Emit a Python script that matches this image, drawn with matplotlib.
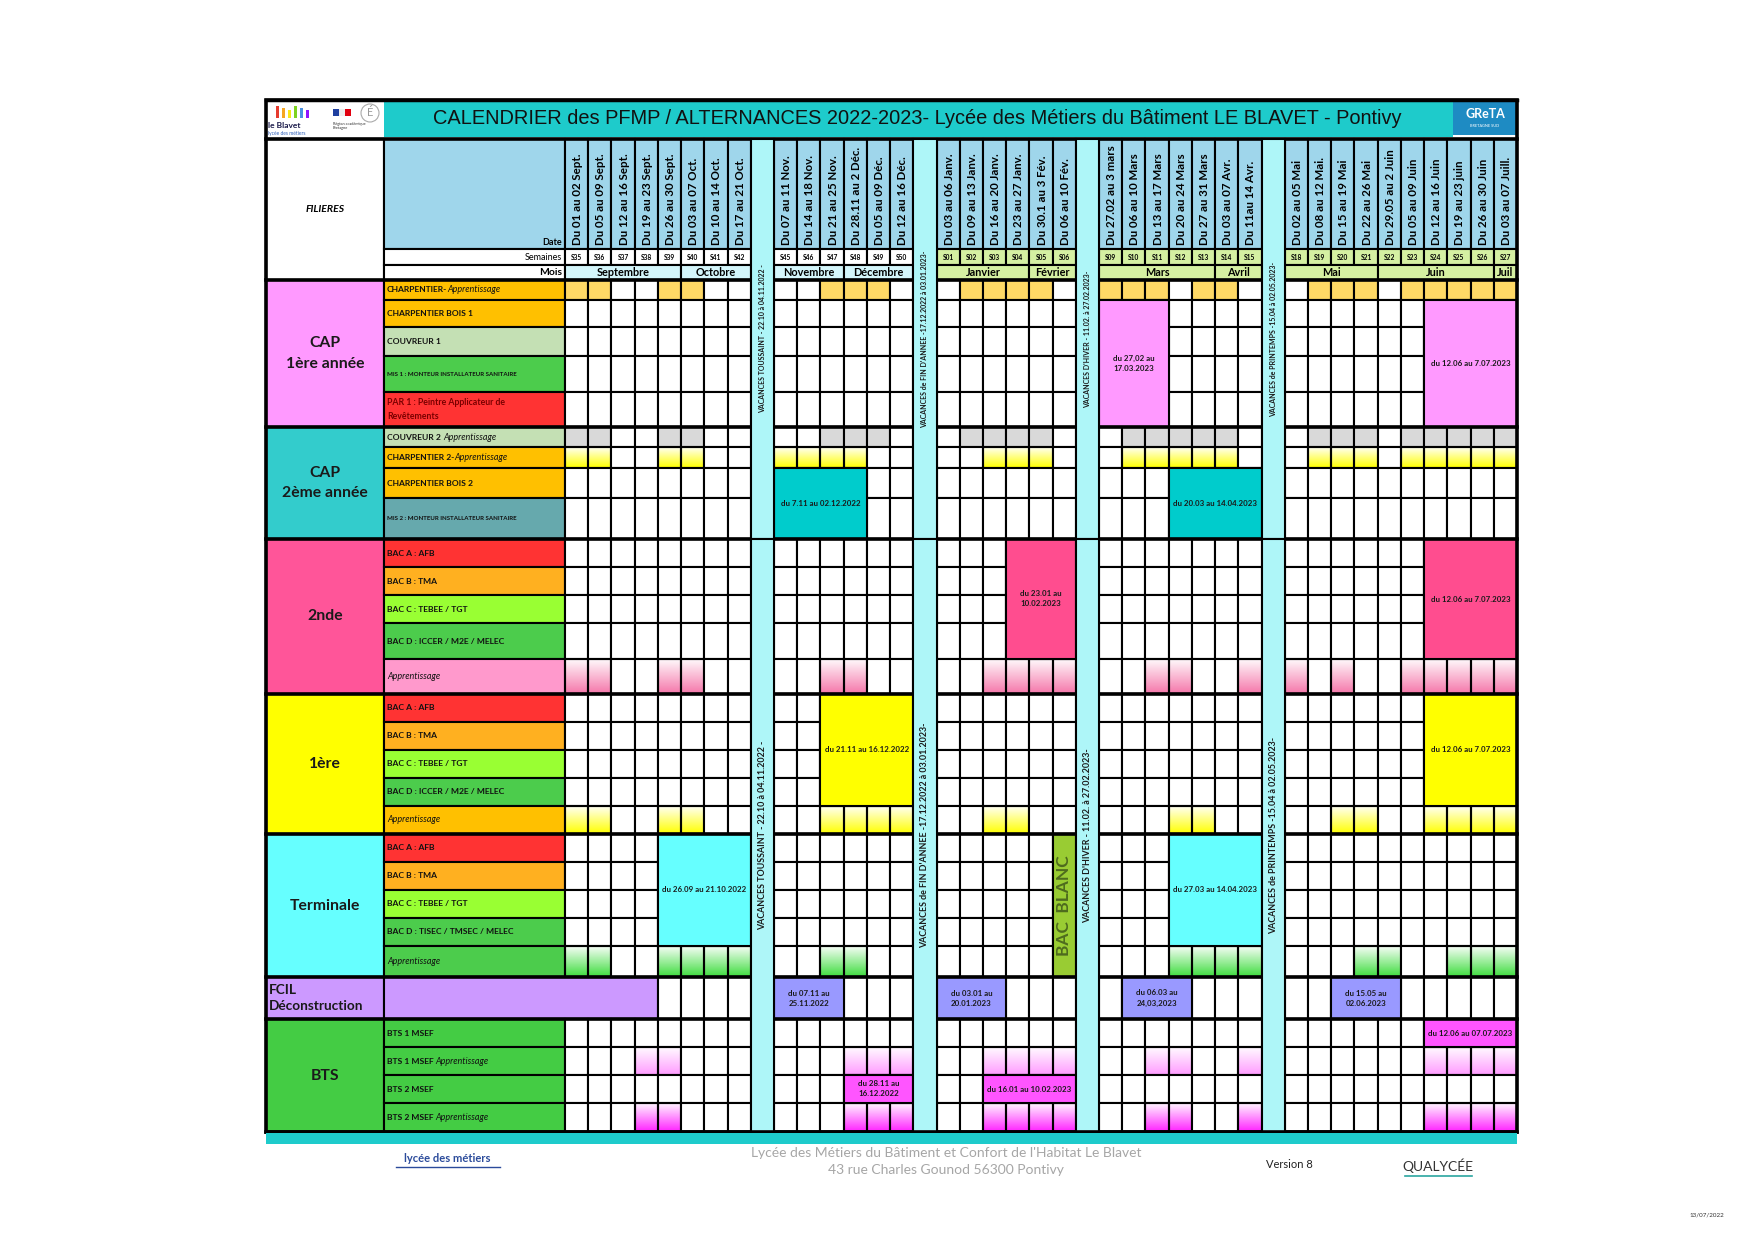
import numpy as np
import matplotlib
matplotlib.use('Agg')
import matplotlib.pyplot as plt
from matplotlib.patches import Rectangle, Circle
from matplotlib.colors import LinearSegmentedColormap

plt.rcParams['font.family'] = ['Lato', 'DejaVu Sans']

# ---------------- data ----------------
titre = ("CALENDRIER des PFMP / ALTERNANCES 2022-2023- Lycée des Métiers "
         "du Bâtiment LE BLAVET - Pontivy")

semaines = ['S35', 'S36', 'S37', 'S38', 'S39', 'S40', 'S41', 'S42',
            'S45', 'S46', 'S47', 'S48', 'S49', 'S50',
            'S01', 'S02', 'S03', 'S04', 'S05', 'S06',
            'S09', 'S10', 'S11', 'S12', 'S13', 'S14', 'S15',
            'S18', 'S19', 'S20', 'S21', 'S22', 'S23', 'S24', 'S25', 'S26', 'S27']

dates = ['Du 01 au 02 Sept.', 'Du 05 au 09 Sept.', 'Du 12 au 16 Sept.', 'Du 19 au 23 Sept.',
         'Du 26 au 30 Sept.', 'Du 03 au 07 Oct.', 'Du 10 au 14 Oct.', 'Du 17 au 21 Oct.',
         'Du 07 au 11 Nov.', 'Du 14 au 18 Nov.', 'Du 21 au 25 Nov.', 'Du 28.11 au 2 Déc.',
         'Du 05 au 09 Déc.', 'Du 12 au 16 Déc.',
         'Du 03 au 06 Janv.', 'Du 09 au 13 Janv.', 'Du 16 au 20 Janv.', 'Du 23 au 27 Janv.',
         'Du 30.1 au 3 Fév.', 'Du 06 au 10 Fév.',
         'Du 27.02 au 3 mars', 'Du 06 au 10 Mars', 'Du 13 au 17 Mars', 'Du 20 au 24 Mars',
         'Du 27 au 31 Mars', 'Du 03 au 07 Avr.', 'Du 11au 14 Avr.',
         'Du 02 au 05 Mai', 'Du 08 au 12 Mai.', 'Du 15 au 19 Mai', 'Du 22 au 26 Mai',
         'Du 29.05 au 2 Juin', 'Du 05 au 09 Juin', 'Du 12 au 16 Juin', 'Du 19 au 23 juin',
         'Du 26 au 30 Juin', 'Du 03 au 07 Juill.']

periodes = [8, 6, 6, 7, 10]      # weeks between two holiday columns

vacances = ['VACANCES TOUSSAINT - 22.10 à 04.11.2022 -',
            "VACANCES de FIN D'ANNEE -17.12.2022 à 03.01.2023-",
            "VACANCES D'HIVER - 11.02. à 27.02.2023-",
            'VACANCES de PRINTEMPS -15.04 à 02.05.2023-']

mois = ['Septembre', 'Octobre', 'Novembre', 'Décembre', 'Janvier', 'Février',
        'Mars', 'Avril', 'Mai', 'Juin', 'Juil']
mois_nb = [5, 3, 3, 3, 4, 2, 5, 2, 4, 5, 1]

groupes = ['CAP\n1ère année', 'CAP\n2ème année', '2nde', '1ère', 'Terminale',
           'FCIL\nDéconstruction', 'BTS']
groupes_nb = [5, 4, 5, 5, 5, 1, 4]

# (bold part, italic part)
filieres = [('CHARPENTIER-', 'Apprentissage'), ('CHARPENTIER BOIS 1', ''),
            ('COUVREUR 1', ''), ('MIS 1 : MONTEUR INSTALLATEUR SANITAIRE', ''),
            ('PAR 1 : Peintre Applicateur de\nRevêtements', ''),
            ('COUVREUR 2 ', 'Apprentissage'), ('CHARPENTIER 2-', 'Apprentissage'),
            ('CHARPENTIER BOIS 2', ''), ('MIS 2 : MONTEUR INSTALLATEUR SANITAIRE', ''),
            ('BAC A : AFB', ''), ('BAC B : TMA', ''), ('BAC C : TEBEE / TGT', ''),
            ('BAC D : ICCER / M2E / MELEC', ''), ('', 'Apprentissage'),
            ('BAC A : AFB', ''), ('BAC B : TMA', ''), ('BAC C : TEBEE / TGT', ''),
            ('BAC D : ICCER / M2E / MELEC', ''), ('', 'Apprentissage'),
            ('BAC A : AFB', ''), ('BAC B : TMA', ''), ('BAC C : TEBEE / TGT', ''),
            ('BAC D : TISEC / TMSEC / MELEC', ''), ('', 'Apprentissage'),
            ('', ''),
            ('BTS 1 MSEF', ''), ('BTS 1 MSEF ', 'Apprentissage'),
            ('BTS 2 MSEF', ''), ('BTS 2 MSEF ', 'Apprentissage')]

# apprenticeship weeks per row: 1 = in company
motifs = {
    0: ('11001100 001110 011110 1110110 0111011111', 'orange'),
    5: ('11001100 001110 011110 0111110 0111011111', 'gris'),
    6: ('11001100 111100 001110 0111110 0111011111', 'jaune'),
    13: ('11001100 001100 001111 0011001 1010011111', 'rose'),
    18: ('11001100 001111 001100 0001100 0011001111', 'jaune'),
    23: ('11001111 001100 000000 0001111 0001100111', 'vert'),
    26: ('00011000 000111 001111 0011001 0000001111', 'mauve'),
    28: ('00011000 000111 001111 0011001 0000001111', 'magenta'),
}

# PFMP blocks: first row, last row, first week, last week, text, colour key
pfmp = [(1, 4, 20, 22, 'du 27,02 au\n17.03.2023', 'cap1'),
        (1, 4, 33, 36, 'du 12.06 au 7.07.2023', 'cap1'),
        (7, 8, 8, 11, 'du 7.11 au 02.12.2022', 'cap2'),
        (7, 8, 23, 26, 'du 20.03 au 14.04.2023', 'cap2'),
        (9, 12, 17, 19, 'du 23.01 au\n10.02.2023', 'seconde'),
        (9, 12, 33, 36, 'du 12.06 au 7.07.2023', 'seconde'),
        (14, 17, 10, 13, 'du 21.11 au 16.12.2022', 'premiere'),
        (14, 17, 33, 36, 'du 12.06 au 7.07.2023', 'premiere'),
        (19, 22, 4, 7, 'du 26.09 au 21.10.2022', 'term'),
        (19, 22, 23, 26, 'du 27.03 au 14.04.2023', 'term'),
        (24, 24, 8, 10, 'du 07.11 au\n25.11.2022', 'fcil'),
        (24, 24, 14, 16, 'du 03.01 au\n20.01.2023', 'fcil'),
        (24, 24, 21, 23, 'du 06.03 au\n24,03,2023', 'fcil'),
        (24, 24, 29, 31, 'du 15.05 au\n02.06.2023', 'fcil'),
        (25, 25, 33, 36, 'du 12.06 au 07.07.2023', 'bts'),
        (27, 27, 11, 13, 'du 28.11 au\n16.12.2022', 'bts'),
        (27, 27, 16, 19, 'du 16.01 au 10.02.2023', 'bts')]

bac_blanc = (19, 23, 19, 'BAC  BLANC')
fcil_bandeau = 4        # FCIL label band covers the first weeks

# ---------------- layout / styles ----------------
W, H = 1753, 1240
X_GRP, X_LAB, X_WK, CW = 266, 384, 565, 23.22
Y_TOP, Y_HEAD, Y_SEM, Y_MOIS, Y_BODY = 100, 139, 249, 265, 280
Y_ROWS = [280, 300, 327, 356, 392, 427, 447, 468, 498, 539, 567, 595, 623, 659, 694,
          722, 750, 778, 806, 834, 862, 890, 918, 946, 977, 1019, 1047, 1075, 1103, 1132]
LW = 1.5

CYAN = '#1ECBCB'
BLEU_DATE = '#9FD6EB'
VAC = '#AEF6F8'
MOIS_C = ['#D4F6FB'] * 4 + ['#D5F0A2'] * 7
SEM_C = ['white'] * 14 + ['#D5F0A2'] * 23

grp_col = ['#FF99FF', '#33CCCC', '#FF5599', '#FFFF00', '#66FFFF', '#CC99FF', '#44CC44']
lab_col = ['#FFC000', '#FFC000', '#C4E0B4', '#4CCC4C', '#FF3333',
           '#C4E0B4', '#FFC000', '#FFC000', '#66A9AD',
           '#FF3333', '#FFB020', '#99FF33', '#4CCC4C', '#FF99CC',
           '#FF3333', '#FFB020', '#99FF33', '#4CCC4C', '#FFC000',
           '#FF3333', '#FFB020', '#99FF33', '#4CCC4C', '#4CCC4C',
           '#CC99FF', '#44CC44', '#44CC44', '#44CC44', '#44CC44']
lab_fs = {3: 4.4, 8: 4.4, 4: 6.3}
lab_txt = {4: '#7A0000'}
bloc_col = {'cap1': '#FF99FF', 'cap2': '#00CCCC', 'seconde': '#FF4D8F',
            'premiere': '#FFFF00', 'term': '#66FFFF', 'fcil': '#9999FF', 'bts': '#FF55FF'}
remplissage = {'orange': (False, '#FFD966'), 'gris': (False, '#D9D9D9'),
               'jaune': (True, '#FFFF00'), 'rose': (True, '#F577AA'),
               'vert': (True, '#3FDD3F'), 'mauve': (True, '#FF9CFF'),
               'magenta': (True, '#FF22FF')}

# column positions
cols = []
k = 0
for p, n in enumerate(periodes):
    for _ in range(n):
        cols.append(('w', k))
        k += 1
    if p < len(vacances):
        cols.append(('v', p))
col_x = X_WK + CW * np.arange(len(cols))
wx = [col_x[i] for i, c in enumerate(cols) if c[0] == 'w']
vx = [col_x[i] for i, c in enumerate(cols) if c[0] == 'v']
X_END = col_x[-1] + CW
R_FCIL = sum(groupes_nb[:5])

fig = plt.figure(figsize=(W / 100, H / 100), dpi=100)
ax = fig.add_axes([0, 0, 1, 1])


def box(x0, y0, w, h, fc='white', lw=LW, z=2, ec='black'):
    ax.add_patch(Rectangle((x0, y0), w, h, facecolor=fc, edgecolor=ec, lw=lw, zorder=z))


def grad(x0, y0, w, h, color):
    cm = LinearSegmentedColormap.from_list('g', ['#FFFFFF', color])
    ax.imshow(np.linspace(0.05, 1, 40).reshape(-1, 1), cmap=cm, vmin=0, vmax=1,
              extent=(x0, x0 + w, y0 + h, y0), aspect='auto', interpolation='bilinear',
              zorder=1)
    box(x0, y0, w, h, fc='none')


# ---- title bar ----
ax.add_patch(Rectangle((X_LAB, Y_TOP), 1453 - X_LAB, Y_HEAD - Y_TOP - 2, facecolor=CYAN, lw=0))
ax.plot([X_GRP, X_END], [Y_TOP, Y_TOP], color='black', lw=2.5)
ax.text(917, 119, titre, family=['Liberation Sans', 'DejaVu Sans'],
        fontsize=14.4, ha='center', va='center', color='#111111')
# logos (approximations)
for i, c in enumerate(['#E63B2E', '#F5A623', '#F8E71C', '#7ED321', '#4A90E2', '#9013FE']):
    ax.add_patch(Rectangle((276 + i * 6, 106 + (i % 3) * 2), 3.5, 12 - (i % 3) * 2, color=c, lw=0))
ax.text(268, 125, 'le Blavet', fontsize=6, fontweight='bold', color='#1A1A4A', va='center')
ax.text(268, 133, 'lycée des métiers', fontsize=3.5, color='#2A5CB8', va='center')
ax.add_patch(Rectangle((333, 109), 6, 7, color='#1F3FA0', lw=0))
ax.add_patch(Rectangle((339, 109), 6, 7, color='#EEEEEE', lw=0))
ax.add_patch(Rectangle((345, 109), 6, 7, color='#E1000F', lw=0))
ax.text(333, 126, 'Région académique\nBretagne', fontsize=2.8, color='#333333', va='center')
ax.add_patch(Circle((370, 113), 9, facecolor='white', edgecolor='#AAAAAA', lw=0.8))
ax.text(370, 113, 'É', fontsize=8, color='#999999', ha='center', va='center')
ax.add_patch(Rectangle((1453, 101), X_END - 1453, 34, facecolor='#1E8BC3', lw=0))
ax.text(1485, 114, 'GReTA', fontsize=9, fontweight='bold', color='white', ha='center', va='center')
ax.text(1485, 126, 'BRETAGNE SUD', fontsize=2.8, color='white', ha='center', va='center')

# ---- header ----
box(X_GRP, Y_HEAD, X_LAB - X_GRP, Y_BODY - Y_HEAD)
ax.text((X_GRP + X_LAB) / 2, 209, 'FILIERES', fontsize=7.5, fontweight='bold',
        style='italic', ha='center', va='center', zorder=4)
box(X_LAB, Y_HEAD, X_WK - X_LAB, Y_SEM - Y_HEAD, fc=BLEU_DATE)
ax.text(X_WK - 3, Y_SEM - 2, 'Date', fontsize=6.5, fontweight='bold', ha='right', va='bottom', zorder=4)
box(X_LAB, Y_SEM, X_WK - X_LAB, Y_MOIS - Y_SEM)
ax.text(X_WK - 3, (Y_SEM + Y_MOIS) / 2, 'Semaines', fontsize=6.5, ha='right', va='center', zorder=4)
box(X_LAB, Y_MOIS, X_WK - X_LAB, Y_BODY - Y_MOIS)
ax.text(X_WK - 3, (Y_MOIS + Y_BODY) / 2, 'Mois', fontsize=7.5, fontweight='bold', ha='right', va='center', zorder=4)

for i, (lab, d) in enumerate(zip(semaines, dates)):
    box(wx[i], Y_HEAD, CW, Y_SEM - Y_HEAD, fc=BLEU_DATE)
    ax.text(wx[i] + CW / 2 + 1, Y_SEM - 4, d, rotation=90, fontsize=8.3, fontweight='bold',
            ha='center', va='bottom', zorder=4)
    box(wx[i], Y_SEM, CW, Y_MOIS - Y_SEM, fc=SEM_C[i])
    ax.text(wx[i] + CW / 2, (Y_SEM + Y_MOIS) / 2, lab, fontsize=4.8, fontweight='bold',
            ha='center', va='center', zorder=4)

start = 0
for m, n, c in zip(mois, mois_nb, MOIS_C):
    box(wx[start], Y_MOIS, CW * n, Y_BODY - Y_MOIS, fc=c)
    ax.text(wx[start] + CW * n / 2, (Y_MOIS + Y_BODY) / 2, m, fontsize=7.8,
            fontweight='bold', ha='center', va='center', zorder=4)
    start += n

# ---- group and row labels ----
r0 = 0
for g, n, c in zip(groupes, groupes_nb, grp_col):
    y0, y1 = Y_ROWS[r0], Y_ROWS[r0 + n]
    box(X_GRP, y0, X_LAB - X_GRP, y1 - y0, fc=c)
    if n == 1:
        ax.text(X_GRP + 3, (y0 + y1) / 2, g, fontsize=9.8, fontweight='bold', ha='left',
                va='center', linespacing=1.45, color='#1A1A1A', zorder=4)
    else:
        ax.text((X_GRP + X_LAB) / 2, (y0 + y1) / 2, g, fontsize=11.3, fontweight='bold',
                ha='center', va='center', linespacing=1.6, color='#1A1A1A', zorder=4)
    r0 += n

for r, (b, it) in enumerate(filieres):
    y0, y1 = Y_ROWS[r], Y_ROWS[r + 1]
    wlab = X_WK - X_LAB
    if r == R_FCIL:
        wlab += CW * fcil_bandeau
    box(X_LAB, y0, wlab, y1 - y0, fc=lab_col[r])
    fs = lab_fs.get(r, 6.1)
    col = lab_txt.get(r, '#111111')
    t = ax.text(X_LAB + 3, (y0 + y1) / 2, b, fontsize=fs, fontweight='bold', ha='left',
                va='center', color=col, linespacing=1.6, zorder=4)
    if it:
        ax.annotate(it, xy=(1, 0.5), xycoords=t, fontsize=fs + 0.4, style='italic',
                    ha='left', va='center', color=col, zorder=4)

# ---- week cells ----
for r in range(len(filieres)):
    y0, h = Y_ROWS[r], Y_ROWS[r + 1] - Y_ROWS[r]
    pat = None
    if r in motifs:
        pat = motifs[r][0].replace(' ', '')
        is_grad, fc = remplissage[motifs[r][1]]
    for w in range(len(semaines)):
        if r == R_FCIL and w < fcil_bandeau:
            continue
        if pat and pat[w] == '1':
            if is_grad:
                grad(wx[w], y0, CW, h, fc)
            else:
                box(wx[w], y0, CW, h, fc=fc)
        else:
            box(wx[w], y0, CW, h)

for ra, rb, wa, wb, txt, key in pfmp:
    y0, y1 = Y_ROWS[ra], Y_ROWS[rb + 1]
    box(wx[wa], y0, CW * (wb - wa + 1), y1 - y0, fc=bloc_col[key], z=3)
    ax.text(wx[wa] + CW * (wb - wa + 1) / 2, (y0 + y1) / 2, txt, fontsize=5.7,
            fontweight='bold', ha='center', va='center', linespacing=1.5,
            color='#1A1A1A', zorder=4)

ra, rb, wk, txt = bac_blanc
box(wx[wk], Y_ROWS[ra], CW, Y_ROWS[rb + 1] - Y_ROWS[ra], fc='#99CC33', z=3)
ax.text(wx[wk] + CW / 2, (Y_ROWS[ra] + Y_ROWS[rb + 1]) / 2, txt, rotation=90, fontsize=12.5,
        fontweight='bold', ha='center', va='center', color='#4E6B1E', zorder=4)

# ---- thick separators ----
r0 = 0
for n in groupes_nb:
    r0 += n
    ax.plot([X_GRP, X_END], [Y_ROWS[r0], Y_ROWS[r0]], color='black', lw=2.6, zorder=5)
ax.plot([X_GRP, X_END], [Y_ROWS[0], Y_ROWS[0]], color='black', lw=2.6, zorder=5)
ax.plot([X_GRP, X_END], [Y_HEAD, Y_HEAD], color='black', lw=2.6, zorder=5)

# ---- holiday columns (continuous, over the separators) ----
y_split = Y_ROWS[9]
for x, txt in zip(vx, vacances):
    box(x, Y_HEAD, CW, y_split - Y_HEAD, fc=VAC, z=6)
    box(x, y_split, CW, Y_ROWS[-1] - y_split, fc=VAC, z=6)
    ax.text(x + CW / 2, (Y_HEAD + y_split) / 2, txt, rotation=90, fontsize=5.0,
            fontweight='bold', ha='center', va='center', color='#1A1A1A', zorder=7)
    ax.text(x + CW / 2, (y_split + Y_ROWS[-1]) / 2, txt, rotation=90, fontsize=6.4,
            fontweight='bold', ha='center', va='center', color='#1A1A1A', zorder=7)

ax.add_patch(Rectangle((X_GRP, Y_TOP), X_END - X_GRP, Y_ROWS[-1] - Y_TOP, facecolor='none',
                       edgecolor='black', lw=2.6, zorder=8))

# ---- footer ----
ax.add_patch(Rectangle((X_GRP, Y_ROWS[-1] + 1), X_END - X_GRP, 11, facecolor=CYAN, lw=0, zorder=8))
ax.text(946, 1153, "Lycée des Métiers du Bâtiment et Confort de l'Habitat Le Blavet",
        fontsize=10, color='#A6A6A6', ha='center', va='center')
ax.text(946, 1170, '43 rue Charles Gounod 56300 Pontivy', fontsize=10, color='#A6A6A6',
        ha='center', va='center')
ax.text(1289, 1165, 'Version 8', fontsize=8, color='#222222', ha='center', va='center')
ax.text(1438, 1166, 'QUALYCÉE', fontsize=10, color='#333333', ha='center', va='center')
ax.plot([1405, 1472], [1176, 1176], color='#2AA5A0', lw=1.2)
ax.text(447, 1159, 'lycée des métiers', fontsize=8, fontweight='bold', color='#2B4B9B',
        ha='center', va='center')
ax.plot([396, 500], [1167, 1167], color='#2B4B9B', lw=1)
ax.text(1707, 1215, '13/07/2022', fontsize=4.5, color='#333333', ha='center', va='center')

ax.set_xlim(0, W)
ax.set_ylim(H, 0)
ax.axis('off')
fig.savefig('out.png', dpi=100, facecolor='white')
